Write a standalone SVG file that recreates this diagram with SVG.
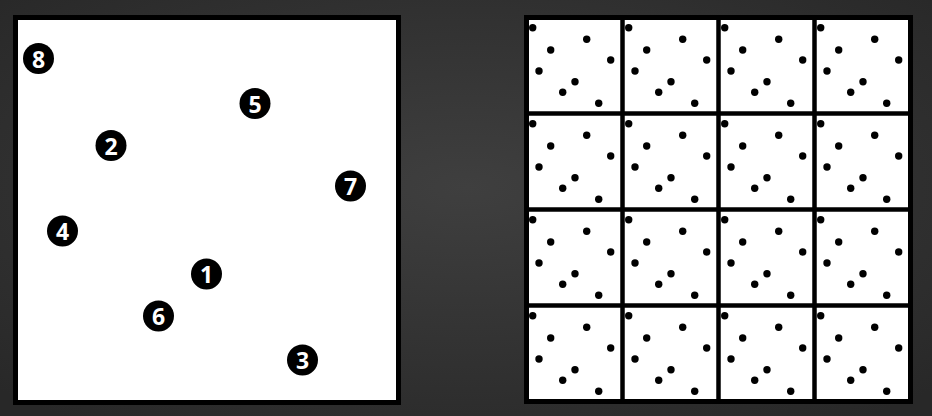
<svg xmlns="http://www.w3.org/2000/svg" xmlns:xlink="http://www.w3.org/1999/xlink" width="932" height="416" viewBox="0 0 932 416">
  <defs>
    <radialGradient id="bg" cx="50%" cy="45%" r="70%">
      <stop offset="0" stop-color="#3f3f3f"/>
      <stop offset="1" stop-color="#282828"/>
    </radialGradient>
    <g id="dots">
      <circle cx="6.2" cy="10.2" r="3.7"/>
      <circle cx="60.2" cy="21.8" r="3.7"/>
      <circle cx="24.2" cy="32.5" r="3.7"/>
      <circle cx="84.2" cy="42.5" r="3.7"/>
      <circle cx="12.5" cy="53.5" r="3.7"/>
      <circle cx="48.5" cy="64.2" r="3.7"/>
      <circle cx="36.2" cy="74.8" r="3.7"/>
      <circle cx="72.2" cy="85.8" r="3.7"/>
    </g>
  </defs>
  <style>
    .frame { fill: #ffffff; stroke: #000000; stroke-width: 5; }
    .grid { fill: none; stroke: #000000; stroke-width: 4.5; }
    .node circle { fill: #000000; }
    .node text { fill: #ffffff; font-family: "Open Sans", "Liberation Sans", sans-serif; font-weight: bold; font-size: 23px; text-anchor: middle; dominant-baseline: central; }
    .dots { fill: #000000; }
  </style>
  <rect width="932" height="416" fill="url(#bg)"/>

  <!-- Left panel -->
  <rect class="frame" x="15.5" y="17.5" width="383" height="385"/>
  <g id="node-8" class="node"><circle cx="38.5" cy="58.5" r="15.5"/><text x="38.5" y="58.5">8</text></g>
  <g id="node-5" class="node"><circle cx="255" cy="103.5" r="15.5"/><text x="255" y="103.5">5</text></g>
  <g id="node-2" class="node"><circle cx="111" cy="145.5" r="15.5"/><text x="111" y="145.5">2</text></g>
  <g id="node-7" class="node"><circle cx="350.5" cy="186" r="15.5"/><text x="350.5" y="186">7</text></g>
  <g id="node-4" class="node"><circle cx="62.5" cy="231" r="15.5"/><text x="62.5" y="231">4</text></g>
  <g id="node-1" class="node"><circle cx="206.5" cy="274" r="15.5"/><text x="206.5" y="274">1</text></g>
  <g id="node-6" class="node"><circle cx="158.5" cy="316" r="15.5"/><text x="158.5" y="316">6</text></g>
  <g id="node-3" class="node"><circle cx="302.5" cy="360" r="15.5"/><text x="302.5" y="360">3</text></g>

  <!-- Right panel: 4x4 tiled grid -->
  <rect x="526.5" y="17.5" width="384" height="384" fill="#ffffff"/>
  <g class="dots" transform="translate(526.5,17.5)">
    <use xlink:href="#dots" href="#dots" x="0" y="0"/>
    <use xlink:href="#dots" href="#dots" x="96" y="0"/>
    <use xlink:href="#dots" href="#dots" x="192" y="0"/>
    <use xlink:href="#dots" href="#dots" x="288" y="0"/>
    <use xlink:href="#dots" href="#dots" x="0" y="96"/>
    <use xlink:href="#dots" href="#dots" x="96" y="96"/>
    <use xlink:href="#dots" href="#dots" x="192" y="96"/>
    <use xlink:href="#dots" href="#dots" x="288" y="96"/>
    <use xlink:href="#dots" href="#dots" x="0" y="192"/>
    <use xlink:href="#dots" href="#dots" x="96" y="192"/>
    <use xlink:href="#dots" href="#dots" x="192" y="192"/>
    <use xlink:href="#dots" href="#dots" x="288" y="192"/>
    <use xlink:href="#dots" href="#dots" x="0" y="288"/>
    <use xlink:href="#dots" href="#dots" x="96" y="288"/>
    <use xlink:href="#dots" href="#dots" x="192" y="288"/>
    <use xlink:href="#dots" href="#dots" x="288" y="288"/>
  </g>
  <g class="grid">
    <rect x="526.5" y="17.5" width="384" height="384" stroke-width="5"/>
    <line x1="622.5" y1="17.5" x2="622.5" y2="401.5"/>
    <line x1="718.5" y1="17.5" x2="718.5" y2="401.5"/>
    <line x1="814.5" y1="17.5" x2="814.5" y2="401.5"/>
    <line x1="526.5" y1="113.5" x2="910.5" y2="113.5"/>
    <line x1="526.5" y1="209.5" x2="910.5" y2="209.5"/>
    <line x1="526.5" y1="305.5" x2="910.5" y2="305.5"/>
  </g>
</svg>
